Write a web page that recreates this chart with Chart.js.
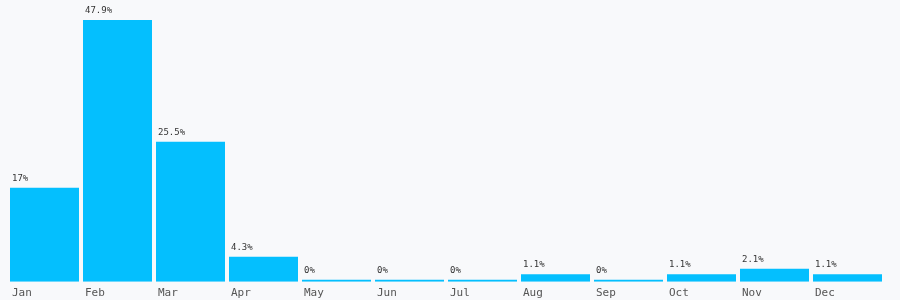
<!DOCTYPE html>
<html><head><meta charset="utf-8">
<script src="https://cdn.jsdelivr.net/npm/chart.js@4"></script>
<style>html,body{margin:0;padding:0;background:#f8f9fb;}#wrap{width:900px;height:300px;}</style>
</head><body><div id="wrap"><canvas id="c"></canvas></div>
<script>
const months = ['Jan','Feb','Mar','Apr','May','Jun','Jul','Aug','Sep','Oct','Nov','Dec'];
const shares = [17, 47.9, 25.5, 4.3, 0, 0, 0, 1.1, 0, 1.1, 2.1, 1.1];
const valueLabels = ['17%','47.9%','25.5%','4.3%','0%','0%','0%','1.1%','0%','1.1%','2.1%','1.1%'];

const labelPlugin = {
  id: 'valueLabels',
  afterDatasetsDraw(chart) {
    const ctx = chart.ctx;
    const meta = chart.getDatasetMeta(0);
    ctx.save();
    ctx.font = '9px "DejaVu Sans Mono", monospace';
    ctx.fillStyle = '#333';
    ctx.textAlign = 'left';
    ctx.textBaseline = 'bottom';
    meta.data.forEach((bar, i) => {
      const left = bar.x - bar.width / 2;
      ctx.fillText(valueLabels[i], left + 2, bar.y - 5);
    });
    ctx.restore();
  }
};

new Chart(document.getElementById('c'), {
  type: 'bar',
  data: { labels: months, datasets: [{ data: shares, base: -0.3, backgroundColor: '#04bffe', borderWidth: 0, minBarLength: 2, barPercentage: 69/73, categoryPercentage: 1 }] },
  options: {
    responsive: true, maintainAspectRatio: false, animation: false,
    layout: { padding: { left: 8, right: 16, top: 20, bottom: -5 } },
    plugins: { legend: { display: false }, tooltip: { enabled: false } },
    scales: {
      x: { grid: { display: false, drawTicks: false }, border: { display: false },
           ticks: { align: 'start', labelOffset: -32.5, padding: 5, color: '#555', font: { family: '"DejaVu Sans Mono", monospace', size: 11 } } },
      y: { display: false, min: -0.3, max: 47.9 }
    }
  },
  plugins: [labelPlugin]
});
</script></body></html>
